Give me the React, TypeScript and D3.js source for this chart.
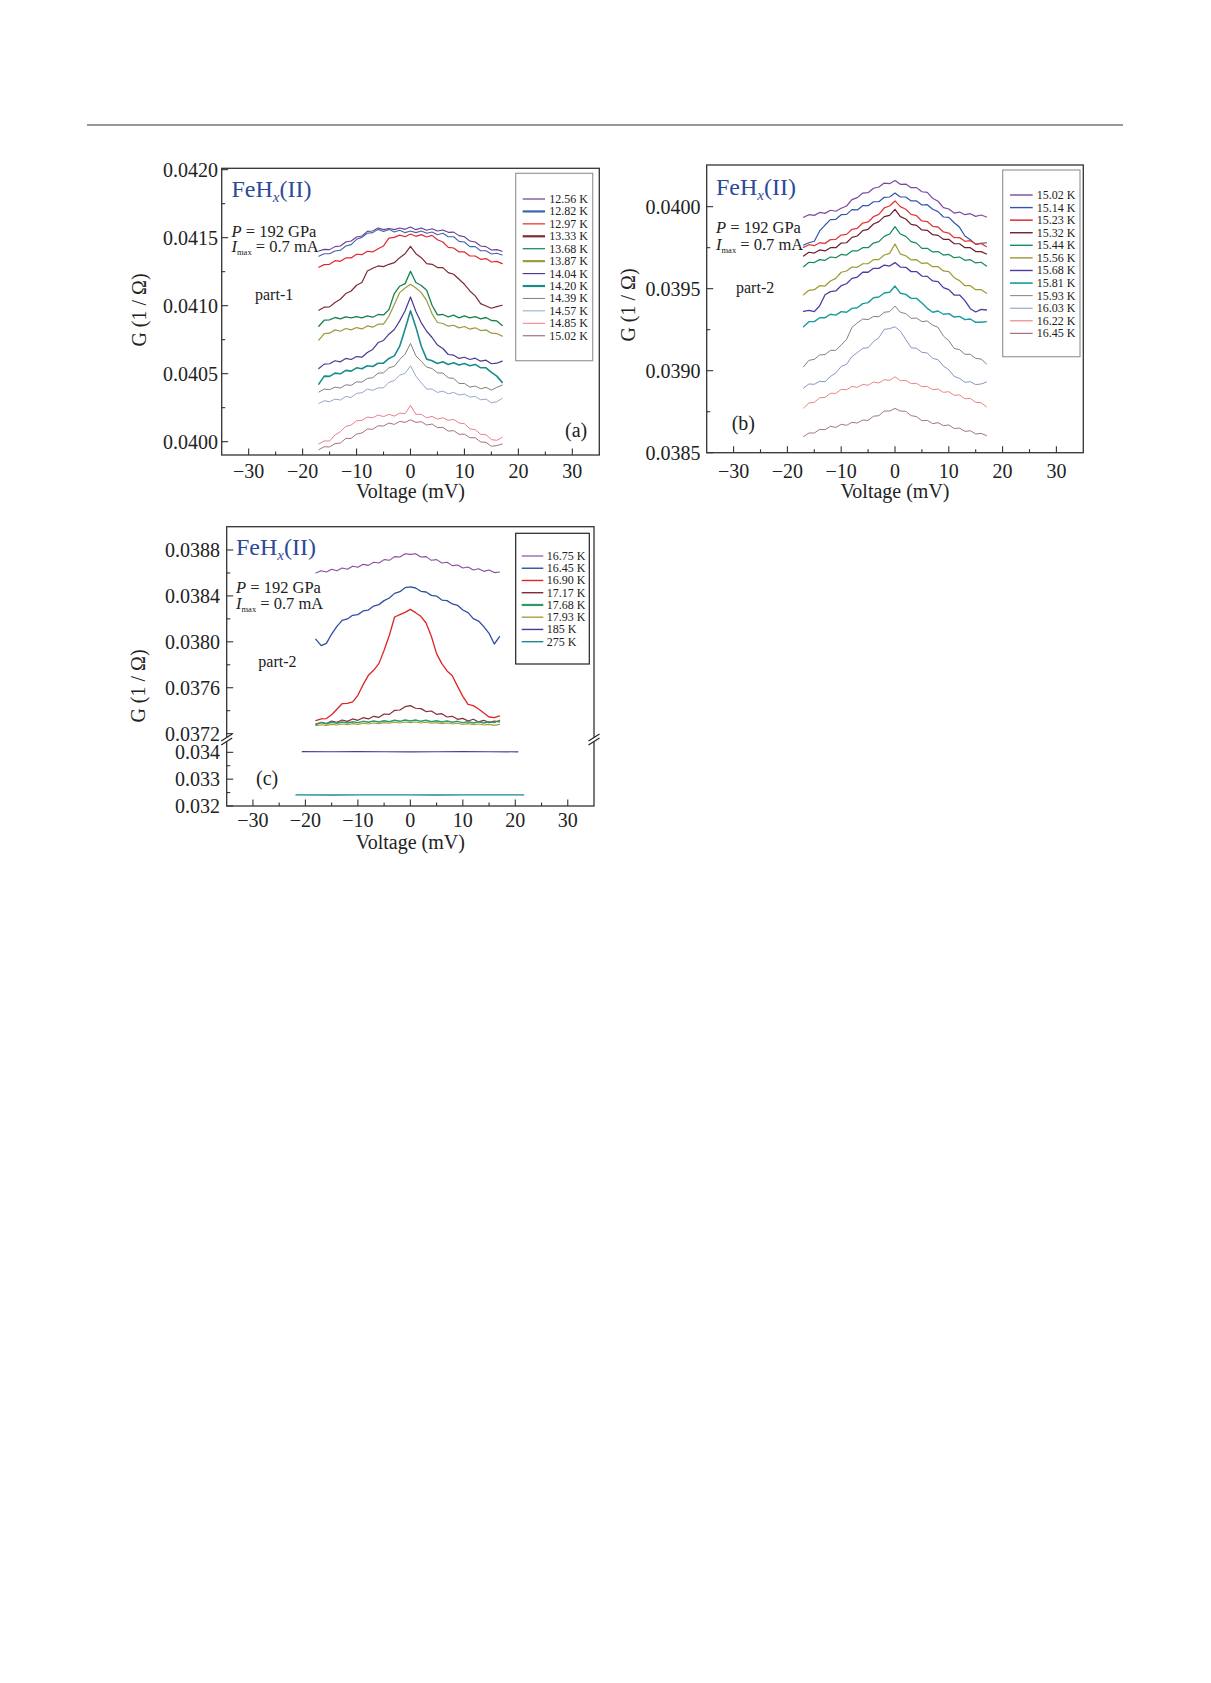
import React from "react";
import * as d3 from "d3";

// ---------- shared voltage grids ----------
const VOLT_AB = [-17,-16,-15,-14,-13,-12,-11,-10,-9,-8,-7,-6,-5,-4,-3,-2,-1,0,1,2,3,4,5,6,7,8,9,10,11,12,13,14,15,16,17];
const VOLT_C = [-18,-17,-16,-15,-14,-13,-12,-11,-10,-9,-8,-7,-6,-5,-4,-3,-2,-1,0,1,2,3,4,5,6,7,8,9,10,11,12,13,14,15,16,17];

// ---------- panel (a) ----------
const A_1256 = [0.041402,0.041414,0.041412,0.041434,0.041439,0.041468,0.041475,0.041505,0.041512,0.041546,0.041549,0.041571,0.041559,0.041568,0.041559,0.041571,0.041561,0.041578,0.041559,0.041571,0.041554,0.041566,0.041549,0.041556,0.041539,0.041541,0.041515,0.041507,0.041475,0.041468,0.041439,0.041434,0.041409,0.041412,0.041400];
const A_1282 = [0.041363,0.041382,0.041382,0.041402,0.041407,0.041439,0.041449,0.041488,0.041502,0.041532,0.041537,0.041561,0.041546,0.041561,0.041541,0.041554,0.041537,0.041549,0.041537,0.041549,0.041532,0.041541,0.041522,0.041532,0.041507,0.041507,0.041473,0.041468,0.041434,0.041434,0.041404,0.041404,0.041380,0.041385,0.041373];
const A_1297 = [0.041282,0.041302,0.041304,0.041331,0.041326,0.041351,0.041351,0.041378,0.041375,0.041400,0.041395,0.041419,0.041439,0.041497,0.041502,0.041519,0.041507,0.041527,0.041510,0.041522,0.041505,0.041517,0.041485,0.041468,0.041429,0.041424,0.041395,0.041395,0.041365,0.041365,0.041341,0.041346,0.041321,0.041326,0.041309];
const A_1333 = [0.040966,0.040989,0.040991,0.041023,0.041047,0.041089,0.041108,0.041150,0.041170,0.041255,0.041275,0.041292,0.041287,0.041304,0.041316,0.041353,0.041382,0.041436,0.041382,0.041353,0.041309,0.041304,0.041280,0.041280,0.041243,0.041231,0.041194,0.041157,0.041108,0.041072,0.041015,0.040998,0.040981,0.040993,0.041003];
const A_1368 = [0.040849,0.040893,0.040896,0.040913,0.040903,0.040918,0.040910,0.040920,0.040910,0.040925,0.040915,0.040935,0.040932,0.040971,0.041089,0.041143,0.041162,0.041253,0.041170,0.041148,0.041113,0.041003,0.040932,0.040935,0.040918,0.040930,0.040910,0.040925,0.040910,0.040920,0.040903,0.040913,0.040891,0.040888,0.040854];
const A_1387 = [0.040746,0.040795,0.040798,0.040822,0.040812,0.040832,0.040822,0.040839,0.040829,0.040851,0.040842,0.040864,0.040864,0.040922,0.041008,0.041096,0.041130,0.041157,0.041130,0.041096,0.041037,0.040940,0.040876,0.040869,0.040849,0.040856,0.040837,0.040847,0.040827,0.040837,0.040817,0.040822,0.040798,0.040795,0.040776];
const A_1404 = [0.040538,0.040570,0.040573,0.040595,0.040587,0.040612,0.040604,0.040626,0.040621,0.040656,0.040678,0.040729,0.040744,0.040790,0.040825,0.040888,0.040962,0.041064,0.040957,0.040874,0.040812,0.040766,0.040710,0.040685,0.040641,0.040636,0.040612,0.040621,0.040604,0.040614,0.040592,0.040599,0.040573,0.040577,0.040592];
const A_1420 = [0.040423,0.040482,0.040480,0.040504,0.040499,0.040524,0.040519,0.040543,0.040536,0.040558,0.040553,0.040577,0.040577,0.040612,0.040631,0.040702,0.040829,0.040962,0.040842,0.040702,0.040607,0.040595,0.040575,0.040587,0.040568,0.040580,0.040563,0.040575,0.040558,0.040568,0.040543,0.040543,0.040509,0.040482,0.040436];
const A_1439 = [0.040365,0.040387,0.040382,0.040401,0.040394,0.040418,0.040414,0.040440,0.040438,0.040465,0.040470,0.040504,0.040506,0.040543,0.040555,0.040604,0.040644,0.040722,0.040631,0.040590,0.040548,0.040538,0.040506,0.040504,0.040470,0.040465,0.040428,0.040428,0.040401,0.040409,0.040389,0.040399,0.040379,0.040399,0.040416];
const A_1457 = [0.040281,0.040301,0.040294,0.040313,0.040306,0.040333,0.040325,0.040355,0.040360,0.040387,0.040377,0.040396,0.040396,0.040436,0.040450,0.040489,0.040502,0.040558,0.040482,0.040433,0.040387,0.040387,0.040362,0.040372,0.040352,0.040362,0.040343,0.040350,0.040328,0.040333,0.040308,0.040313,0.040286,0.040294,0.040318];
const A_1485 = [0.039983,0.040005,0.040005,0.040049,0.040073,0.040113,0.040122,0.040154,0.040157,0.040181,0.040176,0.040196,0.040184,0.040201,0.040188,0.040210,0.040206,0.040267,0.040201,0.040201,0.040176,0.040186,0.040166,0.040176,0.040157,0.040164,0.040137,0.040132,0.040095,0.040088,0.040054,0.040051,0.040015,0.040010,0.040032];
const A_1502 = [0.039941,0.039963,0.039961,0.039985,0.039990,0.040024,0.040024,0.040056,0.040064,0.040093,0.040091,0.040117,0.040115,0.040137,0.040127,0.040149,0.040142,0.040161,0.040142,0.040147,0.040122,0.040130,0.040103,0.040105,0.040078,0.040081,0.040054,0.040056,0.040029,0.040029,0.039998,0.039995,0.039966,0.039971,0.039983];

const A_LABELS = ["12.56 K","12.82 K","12.97 K","13.33 K","13.68 K","13.87 K","14.04 K","14.20 K","14.39 K","14.57 K","14.85 K","15.02 K"];
const A_COLORS = ["#6b3d8f","#3f64ad","#e0282e","#7d2a35","#17804f","#9c9a3c","#4b3a92","#1a8c8c","#7f7f7f","#98a6cf","#ea7f8b","#a3717f"];
const A_VALUES = [A_1256,A_1282,A_1297,A_1333,A_1368,A_1387,A_1404,A_1420,A_1439,A_1457,A_1485,A_1502];

// ---------- panel (b) ----------
const B_1502 = [0.039935,0.039951,0.039947,0.039965,0.039959,0.039978,0.039972,0.039990,0.040004,0.040043,0.040055,0.040083,0.040085,0.040112,0.040120,0.040144,0.040140,0.040159,0.040136,0.040138,0.040116,0.040116,0.040091,0.040087,0.040051,0.040033,0.039994,0.039986,0.039961,0.039967,0.039951,0.039957,0.039941,0.039949,0.039937];
const B_1514 = [0.039766,0.039780,0.039789,0.039852,0.039888,0.039921,0.039923,0.039951,0.039953,0.039982,0.039980,0.040006,0.040006,0.040030,0.040030,0.040057,0.040059,0.040083,0.040059,0.040059,0.040035,0.040035,0.040010,0.040012,0.039984,0.039970,0.039937,0.039935,0.039902,0.039874,0.039821,0.039799,0.039770,0.039776,0.039780];
const B_1523 = [0.039752,0.039768,0.039762,0.039780,0.039776,0.039799,0.039801,0.039827,0.039831,0.039862,0.039868,0.039900,0.039907,0.039939,0.039953,0.039992,0.040004,0.040035,0.040000,0.039984,0.039953,0.039945,0.039913,0.039909,0.039880,0.039876,0.039846,0.039839,0.039811,0.039811,0.039789,0.039793,0.039772,0.039776,0.039756];
const B_1532 = [0.039699,0.039722,0.039717,0.039736,0.039730,0.039750,0.039750,0.039778,0.039780,0.039813,0.039821,0.039854,0.039862,0.039894,0.039909,0.039939,0.039947,0.039984,0.039939,0.039925,0.039892,0.039886,0.039858,0.039856,0.039829,0.039825,0.039801,0.039801,0.039774,0.039774,0.039750,0.039750,0.039726,0.039726,0.039711];
const B_1544 = [0.039634,0.039661,0.039659,0.039677,0.039673,0.039693,0.039689,0.039709,0.039705,0.039730,0.039730,0.039750,0.039750,0.039778,0.039787,0.039819,0.039833,0.039878,0.039833,0.039819,0.039787,0.039778,0.039746,0.039746,0.039724,0.039726,0.039705,0.039709,0.039689,0.039693,0.039673,0.039677,0.039657,0.039661,0.039638];
const B_1556 = [0.039463,0.039490,0.039494,0.039518,0.039516,0.039547,0.039563,0.039600,0.039608,0.039632,0.039630,0.039652,0.039652,0.039677,0.039677,0.039705,0.039715,0.039772,0.039711,0.039701,0.039675,0.039677,0.039654,0.039657,0.039634,0.039634,0.039608,0.039604,0.039567,0.039549,0.039518,0.039518,0.039494,0.039494,0.039472];
const B_1568 = [0.039362,0.039368,0.039360,0.039396,0.039463,0.039482,0.039486,0.039518,0.039530,0.039563,0.039571,0.039600,0.039600,0.039624,0.039624,0.039644,0.039638,0.039659,0.039632,0.039630,0.039604,0.039604,0.039577,0.039575,0.039547,0.039543,0.039506,0.039494,0.039461,0.039461,0.039427,0.039378,0.039358,0.039374,0.039370];
const B_1581 = [0.039268,0.039299,0.039299,0.039323,0.039323,0.039344,0.039339,0.039360,0.039356,0.039380,0.039384,0.039409,0.039415,0.039445,0.039449,0.039474,0.039478,0.039516,0.039472,0.039465,0.039441,0.039441,0.039413,0.039380,0.039356,0.039364,0.039344,0.039348,0.039327,0.039331,0.039311,0.039315,0.039295,0.039295,0.039299];
const B_1593 = [0.039024,0.039063,0.039069,0.039096,0.039098,0.039124,0.039124,0.039157,0.039191,0.039264,0.039291,0.039315,0.039311,0.039331,0.039329,0.039356,0.039360,0.039394,0.039356,0.039348,0.039319,0.039321,0.039299,0.039303,0.039278,0.039264,0.039211,0.039183,0.039136,0.039128,0.039100,0.039100,0.039075,0.039071,0.039041];
const B_1603 = [0.038894,0.038919,0.038917,0.038935,0.038933,0.038965,0.038986,0.039026,0.039039,0.039087,0.039110,0.039136,0.039140,0.039177,0.039201,0.039252,0.039256,0.039268,0.039240,0.039191,0.039140,0.039136,0.039112,0.039108,0.039075,0.039067,0.039028,0.039006,0.038965,0.038953,0.038929,0.038933,0.038915,0.038919,0.038931];
const B_1622 = [0.038772,0.038803,0.038807,0.038835,0.038837,0.038862,0.038862,0.038886,0.038884,0.038904,0.038898,0.038917,0.038911,0.038931,0.038925,0.038945,0.038941,0.038963,0.038939,0.038941,0.038921,0.038923,0.038902,0.038904,0.038884,0.038888,0.038868,0.038872,0.038850,0.038852,0.038829,0.038831,0.038807,0.038805,0.038780];
const B_1645 = [0.038598,0.038620,0.038620,0.038642,0.038640,0.038661,0.038654,0.038673,0.038667,0.038685,0.038681,0.038699,0.038697,0.038722,0.038726,0.038754,0.038754,0.038770,0.038754,0.038752,0.038726,0.038720,0.038695,0.038697,0.038677,0.038683,0.038665,0.038669,0.038648,0.038650,0.038630,0.038634,0.038614,0.038618,0.038604];

const B_LABELS = ["15.02 K","15.14 K","15.23 K","15.32 K","15.44 K","15.56 K","15.68 K","15.81 K","15.93 K","16.03 K","16.22 K","16.45 K"];
const B_COLORS = ["#7b4a9e","#3456a8","#e23a3a","#6b1f2c","#158a5a","#9d9a32","#4c3d9e","#169c9c","#828282","#8796c6","#e98686","#a27682"];
const B_VALUES = [B_1502,B_1514,B_1523,B_1532,B_1544,B_1556,B_1568,B_1581,B_1593,B_1603,B_1622,B_1645];

// ---------- panel (c) ----------
const C_1675 = [0.038600,0.038620,0.038608,0.038632,0.038620,0.038643,0.038632,0.038658,0.038649,0.038675,0.038666,0.038693,0.038687,0.038716,0.038710,0.038742,0.038739,0.038768,0.038762,0.038768,0.038739,0.038742,0.038710,0.038716,0.038687,0.038693,0.038664,0.038669,0.038643,0.038652,0.038626,0.038637,0.038614,0.038626,0.038603,0.038608];
const C_1645 = [0.038022,0.037967,0.037987,0.038068,0.038135,0.038187,0.038199,0.038231,0.038237,0.038269,0.038277,0.038312,0.038324,0.038359,0.038382,0.038422,0.038437,0.038472,0.038478,0.038469,0.038440,0.038434,0.038405,0.038399,0.038364,0.038359,0.038330,0.038318,0.038277,0.038254,0.038202,0.038181,0.038132,0.038074,0.037981,0.038045];
const C_1690 = [0.037313,0.037328,0.037331,0.037365,0.037412,0.037461,0.037464,0.037476,0.037534,0.037627,0.037708,0.037752,0.037810,0.037926,0.038057,0.038216,0.038237,0.038257,0.038283,0.038254,0.038222,0.038164,0.038048,0.037897,0.037810,0.037746,0.037705,0.037612,0.037525,0.037455,0.037444,0.037415,0.037380,0.037345,0.037339,0.037354];
const C_1717 = [0.037278,0.037299,0.037287,0.037310,0.037299,0.037319,0.037307,0.037328,0.037316,0.037339,0.037328,0.037351,0.037342,0.037371,0.037368,0.037403,0.037406,0.037435,0.037444,0.037421,0.037418,0.037392,0.037397,0.037368,0.037374,0.037345,0.037351,0.037325,0.037333,0.037310,0.037325,0.037302,0.037316,0.037296,0.037310,0.037302];
const C_1768 = [0.037284,0.037296,0.037287,0.037299,0.037290,0.037302,0.037293,0.037304,0.037296,0.037307,0.037299,0.037310,0.037302,0.037313,0.037304,0.037316,0.037307,0.037319,0.037310,0.037319,0.037307,0.037316,0.037304,0.037313,0.037302,0.037310,0.037299,0.037307,0.037296,0.037304,0.037293,0.037304,0.037293,0.037304,0.037296,0.037316];
const C_1793 = [0.037270,0.037278,0.037272,0.037281,0.037275,0.037284,0.037278,0.037287,0.037281,0.037290,0.037284,0.037293,0.037287,0.037296,0.037290,0.037299,0.037293,0.037302,0.037296,0.037302,0.037293,0.037299,0.037290,0.037296,0.037287,0.037293,0.037284,0.037290,0.037281,0.037287,0.037278,0.037284,0.037275,0.037281,0.037272,0.037281];
const VOLT_185 = [-20.6,-15,-10,-5,0,5,10,15,20.5];
const C_185 = [0.034025,0.034022,0.034025,0.034022,0.034020,0.034022,0.034025,0.034022,0.034020];
const VOLT_275 = [-21.8,-15,-10,-5,0,5,10,15,21.6];
const C_275 = [0.032413,0.032410,0.032413,0.032411,0.032413,0.032410,0.032413,0.032411,0.032413];

const C_LABELS = ["16.75 K","16.45 K","16.90 K","17.17 K","17.68 K","17.93 K","185 K","275 K"];
const C_COLORS = ["#8a4d9e","#2f4fa2","#e02424","#862a35","#2e9a6a","#a3a23e","#4a3c96","#178a96"];
const C_VOLTS = [VOLT_C,VOLT_C,VOLT_C,VOLT_C,VOLT_C,VOLT_C,VOLT_185,VOLT_275];
const C_VALUES = [C_1675,C_1645,C_1690,C_1717,C_1768,C_1793,C_185,C_275];

// ---------- ticks ----------
const X_TICKS = [-30,-20,-10,0,10,20,30];
const X_TICK_LABELS = ["\u221230","\u221220","\u221210","0","10","20","30"];
const X_MINOR = [-25,-15,-5,5,15,25];
const Y_TICKS_A = [0.0400,0.0405,0.0410,0.0415,0.0420];
const Y_MINOR_A = [0.04025,0.04075,0.04125,0.04175];
const Y_TICKS_B = [0.0385,0.0390,0.0395,0.0400];
const Y_MINOR_B = [0.03875,0.03925,0.03975];
const Y_TICKS_C_UP = [0.0372,0.0376,0.0380,0.0384,0.0388];
const Y_MINOR_C_UP = [0.0374,0.0378,0.0382,0.0386];
const Y_TICKS_C_LO = [0.032,0.033,0.034];
const Y_MINOR_C_LO = [0.0325,0.0335];

// ---------- styling ----------
const FONT = '"Liberation Serif", "Times New Roman", Times, serif';
const AX = "#333";
const TITLE_BLUE = "#2d4a9a";

type Scale = (v: number) => number;

function Frame({ x0, y0, x1, y1 }: { x0: number; y0: number; x1: number; y1: number }) {
  return <rect x={x0} y={y0} width={x1 - x0} height={y1 - y0} fill="none" stroke={AX} strokeWidth={1.3} />;
}

function BottomAxis({ x, yBase, labelY, titleY }: { x: Scale; yBase: number; labelY: number; titleY: number }) {
  return (
    <g>
      {X_TICKS.map((t) => (
        <line key={"M" + t} x1={x(t)} x2={x(t)} y1={yBase} y2={yBase - 6.5} stroke={AX} strokeWidth={1.1} />
      ))}
      {X_MINOR.map((t) => (
        <line key={"m" + t} x1={x(t)} x2={x(t)} y1={yBase} y2={yBase - 3.5} stroke={AX} strokeWidth={1.1} />
      ))}
      {X_TICKS.map((t, i) => (
        <text key={"L" + t} x={x(t)} y={labelY} textAnchor="middle" fontSize={20} fill="#222">
          {X_TICK_LABELS[i]}
        </text>
      ))}
      <text x={x(0)} y={titleY} textAnchor="middle" fontSize={20} fill="#222">
        Voltage (mV)
      </text>
    </g>
  );
}

function LeftTicks({ y, xBase, ticks, minor, labelRight, fmt }: { y: Scale; xBase: number; ticks: number[]; minor: number[]; labelRight: number; fmt: (v: number) => string }) {
  return (
    <g>
      {ticks.map((t) => (
        <line key={"M" + t} x1={xBase} x2={xBase + 6.5} y1={y(t)} y2={y(t)} stroke={AX} strokeWidth={1.1} />
      ))}
      {minor.map((t) => (
        <line key={"m" + t} x1={xBase} x2={xBase + 3.5} y1={y(t)} y2={y(t)} stroke={AX} strokeWidth={1.1} />
      ))}
      {ticks.map((t) => (
        <text key={"L" + t} x={labelRight} y={y(t) + 7} textAnchor="end" fontSize={20} fill="#222">
          {fmt(t)}
        </text>
      ))}
    </g>
  );
}

function YTitle({ x, y }: { x: number; y: number }) {
  return (
    <text transform={`translate(${x},${y}) rotate(-90)`} textAnchor="middle" fontSize={20} fill="#222">
      G (1 / Ω)
    </text>
  );
}

function Annotations({ x, titleY, pY, iY, partX, partY, partText, tagX, tagY, tag }: any) {
  return (
    <g>
      <text x={x} y={titleY} fontSize={24} fill={TITLE_BLUE}>
        FeH
        <tspan fontStyle="italic" fontSize={15} dy={5}>x</tspan>
        <tspan dy={-5}>(II)</tspan>
      </text>
      <text x={x} y={pY} fontSize={16.5} fill="#222">
        <tspan fontStyle="italic">P</tspan> = 192 GPa
      </text>
      <text x={x} y={iY} fontSize={16.5} fill="#222">
        <tspan fontStyle="italic">I</tspan>
        <tspan fontSize={8.5} dy={3}>max</tspan>
        <tspan dy={-3}> = 0.7 mA</tspan>
      </text>
      <text x={partX} y={partY} fontSize={16} fill="#222">{partText}</text>
      <text x={tagX} y={tagY} fontSize={20} fill="#222">{tag}</text>
    </g>
  );
}

function Legend({ box, stroke, labels, colors, widths, firstY, step, lx0, lx1, tx }: any) {
  return (
    <g>
      <rect x={box[0]} y={box[1]} width={box[2] - box[0]} height={box[3] - box[1]} fill="white" stroke={stroke} strokeWidth={1.2} />
      {labels.map((l: string, i: number) => (
        <g key={l + i}>
          <line x1={lx0} x2={lx1} y1={firstY + i * step} y2={firstY + i * step} stroke={colors[i]} strokeWidth={widths[i]} />
          <text x={tx} y={firstY + i * step + 4} fontSize={12} fill="#222">{l}</text>
        </g>
      ))}
    </g>
  );
}

function Curves({ volts, values, colors, widths, x, y }: any) {
  const gen = d3
    .line<[number, number]>()
    .x((d) => x(d[0]))
    .y((d) => y(d[1]));
  return (
    <g fill="none" strokeLinejoin="round" strokeLinecap="round">
      {values.map((g: number[], i: number) => {
        const vs: number[] = volts[i];
        const pts = vs.map((v, j) => [v, g[j]] as [number, number]);
        return <path key={i} d={gen(pts) || ""} stroke={colors[i]} strokeWidth={widths[i]} />;
      })}
    </g>
  );
}

const f4 = d3.format(".4f");
const f3 = d3.format(".3f");

export default function App() {
  // panel (a)
  const xA = d3.scaleLinear().domain([-35, 35]).range([221.7, 599.3]);
  const yA = d3.scaleLinear().domain([0.039902, 0.04201]).range([455, 168.3]);
  // panel (b)
  const xB = d3.scaleLinear().domain([-35, 35]).range([706.7, 1083.3]);
  const yB = d3.scaleLinear().domain([0.0385, 0.040254]).range([452.7, 165]);
  // panel (c) broken axis
  const xC = d3.scaleLinear().domain([-35, 35]).range([226.7, 594]);
  const yCUp = d3.scaleLinear().domain([0.037162, 0.039003]).range([738, 526.7]);
  const yCLo = d3.scaleLinear().domain([0.032, 0.034534]).range([806, 738]);
  const yC = (g: number) => (g > 0.036 ? yCUp(g) : yCLo(g));

  const wA = [1.1, 1.1, 1.2, 1.2, 1.3, 1.2, 1.2, 1.6, 1.0, 1.0, 1.0, 1.0];
  const wAL = [1.2, 2.2, 1.2, 2.2, 1.2, 2.2, 1.2, 2.2, 1.0, 1.0, 1.0, 1.2];
  const wB = [1.2, 1.2, 1.3, 1.2, 1.2, 1.2, 1.3, 1.4, 1.0, 1.0, 1.0, 1.0];
  const wBL = [1.4, 1.4, 1.6, 1.4, 1.4, 1.4, 1.4, 1.6, 1.0, 1.0, 1.2, 1.2];
  const wC = [1.1, 1.3, 1.3, 1.2, 1.5, 1.1, 1.2, 1.3];
  const wCL = [1.2, 1.4, 1.4, 1.4, 2.2, 1.4, 1.4, 1.4];

  const voltsAB = A_VALUES.map(() => VOLT_AB);

  return (
    <svg
      width={1211}
      height={1683}
      viewBox="0 0 1211 1683"
      style={{ position: "absolute", left: 0, top: 0, background: "white" }}
      fontFamily={FONT}
    >
      <rect x={0} y={0} width={1211} height={1683} fill="white" />
      <line x1={87} x2={1123} y1={125} y2={125} stroke="#777" strokeWidth={1.5} />

      {/* ---------- (a) ---------- */}
      <g>
        <Curves volts={voltsAB} values={A_VALUES} colors={A_COLORS} widths={wA} x={xA} y={yA} />
        <Frame x0={221.7} y0={168.3} x1={599.3} y1={455} />
        <BottomAxis x={xA} yBase={455} labelY={478} titleY={498} />
        <LeftTicks y={yA} xBase={221.7} ticks={Y_TICKS_A} minor={Y_MINOR_A} labelRight={218} fmt={f4} />
        <YTitle x={146} y={310} />
        <Annotations x={231.5} titleY={197} pY={236.5} iY={252} partX={255} partY={300} partText="part-1" tagX={565} tagY={437} tag="(a)" />
        <Legend box={[515.7, 173.3, 592.7, 360.7]} stroke="#999" labels={A_LABELS} colors={A_COLORS} widths={wAL} firstY={199} step={12.43} lx0={522.7} lx1={545} tx={549.3} />
      </g>

      {/* ---------- (b) ---------- */}
      <g>
        <Curves volts={voltsAB} values={B_VALUES} colors={B_COLORS} widths={wB} x={xB} y={yB} />
        <Frame x0={706.7} y0={165} x1={1083.3} y1={452.7} />
        <BottomAxis x={xB} yBase={452.7} labelY={478} titleY={498} />
        <LeftTicks y={yB} xBase={706.7} ticks={Y_TICKS_B} minor={Y_MINOR_B} labelRight={700.5} fmt={f4} />
        <YTitle x={635} y={305} />
        <Annotations x={716} titleY={195} pY={233} iY={250} partX={736} partY={292.7} partText="part-2" tagX={731.7} tagY={430} tag="(b)" />
        <Legend box={[1002.7, 170, 1080, 356.7]} stroke="#999" labels={B_LABELS} colors={B_COLORS} widths={wBL} firstY={195} step={12.58} lx0={1010} lx1={1032.7} tx={1036.7} />
      </g>

      {/* ---------- (c) ---------- */}
      <g>
        <Curves volts={C_VOLTS} values={C_VALUES} colors={C_COLORS} widths={wC} x={xC} y={yC} />
        <Frame x0={226.7} y0={526.7} x1={594} y1={806} />
        <BottomAxis x={xC} yBase={806} labelY={827} titleY={849} />
        <LeftTicks y={yCUp} xBase={226.7} ticks={Y_TICKS_C_UP} minor={Y_MINOR_C_UP} labelRight={220} fmt={f4} />
        <LeftTicks y={yCLo} xBase={226.7} ticks={Y_TICKS_C_LO} minor={Y_MINOR_C_LO} labelRight={220} fmt={f3} />
        <YTitle x={145} y={686} />
        {/* axis break marks */}
        {[226.7, 594].map((bx) => (
          <g key={bx}>
            <polygon points={`${bx - 5},${741} ${bx + 5},${734.5} ${bx + 5},${738.5} ${bx - 5},${745}`} fill="white" />
            <line x1={bx - 5.5} y1={741} x2={bx + 5.5} y2={734} stroke="#222" strokeWidth={1.2} />
            <line x1={bx - 5.5} y1={745} x2={bx + 5.5} y2={738} stroke="#222" strokeWidth={1.2} />
          </g>
        ))}
        <Annotations x={236} titleY={555} pY={592.7} iY={609.3} partX={258.3} partY={666.7} partText="part-2" tagX={256} tagY={785} tag="(c)" />
        <Legend box={[515.7, 533.3, 589.3, 664]} stroke="#222" labels={C_LABELS} colors={C_COLORS} widths={wCL} firstY={556} step={12.24} lx0={521.7} lx1={543.3} tx={546.7} />
      </g>
    </svg>
  );
}
